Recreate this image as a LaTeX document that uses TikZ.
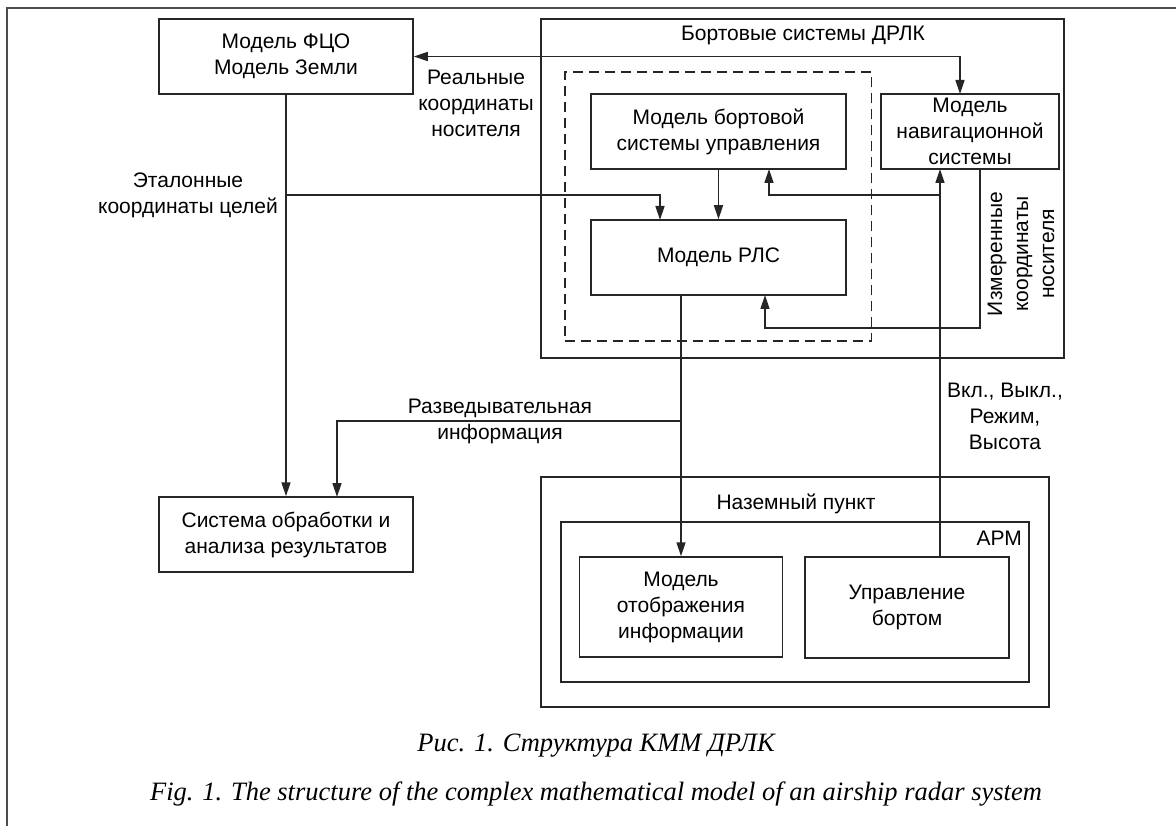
\documentclass[tikz,border=0pt]{standalone}
\usepackage{fontspec}
\setmainfont{Liberation Sans}
\newfontfamily\capfont{Liberation Serif}
\usetikzlibrary{arrows.meta}
\newcommand\dfont{\fontsize{21}{26}\selectfont}
\newcommand\cfont{\capfont\itshape\fontsize{26.5}{30}\selectfont}
\begin{document}
\begin{tikzpicture}[x=1pt,y=-1pt,
  box/.style={draw=black!85,line width=1.5pt,inner sep=0pt,align=center,font=\dfont},
  frame/.style={draw=black!85,line width=1.5pt,inner sep=0pt},
  lbl/.style={inner sep=0pt,align=center,font=\dfont},
  ln/.style={draw=black!85,line width=1.5pt},
  tip/.tip={Triangle[length=14pt,width=9pt]},
  arr/.style={draw=black!85,line width=1.5pt,-tip}]
\useasboundingbox (0,0) rectangle (1176,826);
% outer page frame
\draw[line width=1.8pt,black!70] (1176,8) -- (7,8) -- (7,826);

% containers
\node[frame,minimum width=523pt,minimum height=339pt] (bort) at (802.5,188.5) {};
\node[lbl,anchor=base] (bortt) at (803,40.5) {Бортовые системы ДРЛК};
\node[frame,dash pattern=on 10pt off 6pt,minimum width=306.5pt,minimum height=269pt] (dash) at (718.25,206.5) {};
\node[frame,minimum width=508pt,minimum height=230pt] (naz) at (795,592) {};
\node[lbl,anchor=base] (nazt) at (796,509.5) {Наземный пункт};
\node[frame,minimum width=468pt,minimum height=160pt] (arm) at (795,602) {};
\node[lbl,anchor=base east] (armt) at (1022,545.5) {АРМ};

% boxes
\node[box,minimum width=254pt,minimum height=75pt] (fco) at (286,56.5) {Модель ФЦО\\Модель Земли};
\node[box,minimum width=255pt,minimum height=75pt] (bsu) at (718.5,131.5) {Модель бортовой\\системы управления};
\node[box,minimum width=178pt,minimum height=75pt] (nav) at (970,131.5) {Модель\\навигационной\\системы};
\node[box,minimum width=255pt,minimum height=75pt] (rls) at (718.5,257.5) {Модель РЛС};
\node[box,minimum width=254pt,minimum height=75pt] (sys) at (286,534.5) {Система обработки и\\анализа результатов};
\node[box,minimum width=203pt,minimum height=100pt] (disp) at (681,607) {Модель\\отображения\\информации};
\node[box,minimum width=204pt,minimum height=101pt] (upr) at (907,607.5) {Управление\\бортом};

% connector points
\coordinate (navin) at (960,94);
\coordinate (j1) at (286,195);
\coordinate (rlsin1) at (660,220);
\coordinate (uprout) at (940,557);
\coordinate (navin2) at (940,169);
\coordinate (j2) at (940,195);
\coordinate (bsuin) at (769,169);
\coordinate (navout) at (980,169);
\coordinate (k1) at (980,328);
\coordinate (rlsin2) at (765,295);
\coordinate (rlsout) at (681,295);
\coordinate (j3) at (681,421);
\coordinate (sysin) at (337,497);

% connectors
\draw[ln,tip-tip] (fco.east) -| (navin);
\draw[arr] (fco.south) -- (sys.north);
\draw[arr] (j1) -| (rlsin1);
\draw[arr] (bsu.south) -- (rls.north);
\draw[arr] (uprout) -- (navin2);
\draw[arr] (j2) -| (bsuin);
\draw[arr] (navout) -- (k1) -| (rlsin2);
\draw[arr] (rlsout) -- (disp.north);
\draw[arr] (j3) -| (sysin);

% labels
\node[lbl] (l1) at (476,103) {Реальные\\координаты\\носителя};
\node[lbl] (l2) at (188,195.5) {Эталонные\\координаты целей};
\node[lbl,rotate=90] (l3) at (1021,254) {Измеренные\\координаты\\носителя};
\node[lbl] (l4) at (500,421.5) {Разведывательная\\информация};
\node[lbl] (l5) at (1005,416) {Вкл., Выкл.,\\Режим,\\Высота};

% captions
\node[anchor=base,inner sep=0pt,font=\cfont] (cap1) at (596,751.5) {Рис. 1. Структура КММ ДРЛК};
\node[anchor=base,inner sep=0pt,font=\cfont] (cap2) at (596,800) {Fig. 1. The structure of the complex mathematical model of an airship radar system};
\end{tikzpicture}
\end{document}
